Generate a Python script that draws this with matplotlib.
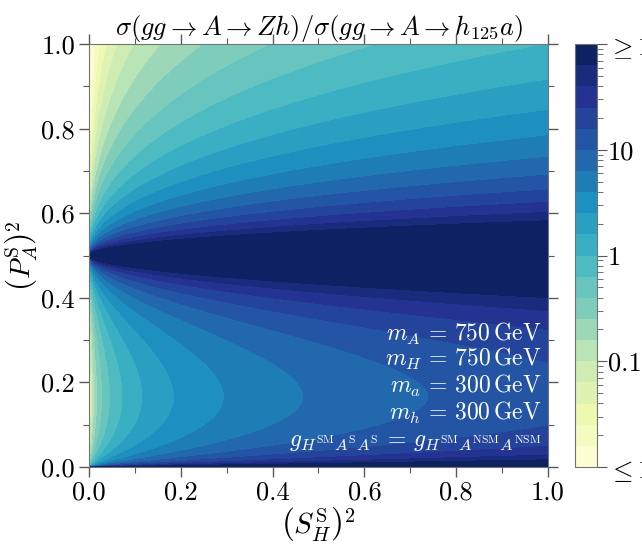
#!/usr/bin/env python3
"""
Ratio sigma(gg->A->Zh)/sigma(gg->A->h125 a) over the singlet admixtures
(S_H^S)^2 and (P_A^S)^2 of H and A.
"""

import numpy as np
import matplotlib
matplotlib.use("Agg")
import matplotlib.pyplot as plt
from matplotlib.colors import LogNorm
from matplotlib.ticker import MultipleLocator, LogLocator, NullFormatter

plt.rcParams['font.family'] = 'serif'
plt.rcParams['font.serif'] = ['cmr10']
plt.rcParams['mathtext.fontset'] = 'cm'
plt.rcParams['axes.formatter.use_mathtext'] = True

# Benchmark shown in the annotation box
MASS_LINES = [
    r'$m_A \,=\, 750\,\mathrm{GeV}$',
    r'$m_H \,=\, 750\,\mathrm{GeV}$',
    r'$m_a \,=\, 300\,\mathrm{GeV}$',
    r'$m_h \,=\, 300\,\mathrm{GeV}$',
    r'$g_{H^{\rm SM}A^{\rm S}A^{\rm S}} \,=\, g_{H^{\rm SM}A^{\rm NSM}A^{\rm NSM}}$',
]

# Colour scale: 5 bands per decade between 1e-2 and 1e2
RATIO_MIN = 1e-2
RATIO_MAX = 1e2
N_BANDS = 20
CBAR_TICKS = [1e-2, 1e-1, 1, 10, 1e2]
CBAR_LABELS = [r'$\leq 10^{-2}$', '0.1', '1', '10', r'$\geq 10^{2}$']

# Normalisation of the ratio: R(1, 1) ~ 1
RATIO_NORM = 1.0

# Scan grid over the mixing angles
x_grid = np.linspace(0.0, 1.0, 601)   # (S_H^S)^2
y_grid = np.linspace(0.0, 1.0, 801)   # (P_A^S)^2


def ratio(x, y):
    """A->Zh couples through S_h^NSM (~x); A->h125 a through (1-2y) with the
    A/a mixing, leading to R ~ x / (y (1-2y)^2)."""
    with np.errstate(divide='ignore', invalid='ignore'):
        r = RATIO_NORM * x / (y * (1.0 - 2.0 * y) ** 2)
    r = np.nan_to_num(r, nan=RATIO_MAX, posinf=RATIO_MAX)
    return np.clip(r, RATIO_MIN * 1.0001, RATIO_MAX * 0.9999)


def main():
    X, Y = np.meshgrid(x_grid, y_grid)
    Z = ratio(X, Y)

    fig = plt.figure(figsize=(6.42, 5.52), dpi=100)
    ax = fig.add_axes([0.1386, 0.154, 0.715, 0.766])
    cax = fig.add_axes([0.8956, 0.154, 0.0343, 0.766])

    levels = np.logspace(np.log10(RATIO_MIN), np.log10(RATIO_MAX), N_BANDS + 1)
    cs = ax.contourf(X, Y, Z, levels=levels, cmap='YlGnBu',
                     norm=LogNorm(vmin=RATIO_MIN, vmax=RATIO_MAX))

    ax.set_xlim(0, 1)
    ax.set_ylim(0, 1)
    ax.xaxis.set_major_locator(MultipleLocator(0.2))
    ax.yaxis.set_major_locator(MultipleLocator(0.2))
    ax.xaxis.set_minor_locator(MultipleLocator(0.1))
    ax.yaxis.set_minor_locator(MultipleLocator(0.1))
    ax.xaxis.set_major_formatter(plt.FormatStrFormatter('%.1f'))
    ax.yaxis.set_major_formatter(plt.FormatStrFormatter('%.1f'))
    ax.tick_params(which='both', direction='out', top=True, right=True,
                   labelsize=19, color='0.35')
    ax.tick_params(which='major', length=7, width=1.0, pad=3)
    ax.tick_params(which='minor', length=4, width=0.8)
    for sp in ax.spines.values():
        sp.set_color('0.45')

    ax.set_xlabel(r'$\left(S_H^{\rm S}\right)^2$', fontsize=21, labelpad=0)
    ax.set_ylabel(r'$\left(P_A^{\rm S}\right)^2$', fontsize=20, labelpad=1)
    ax.set_title(r'$\sigma(gg\to A\to Zh)/\sigma(gg\to A\to h_{125}a)$',
                 fontsize=19, pad=5)

    # Annotation box, right aligned
    y_pos = [0.315, 0.255, 0.192, 0.128, 0.057]
    for txt, yp in zip(MASS_LINES, y_pos):
        ax.text(0.985, yp, txt, transform=ax.transAxes, ha='right',
                va='center', color='white', fontsize=17)

    cbar = fig.colorbar(cs, cax=cax)
    cbar.set_ticks(CBAR_TICKS)
    cbar.set_ticklabels(CBAR_LABELS)
    cax.yaxis.set_minor_locator(LogLocator(base=10, subs=np.arange(2, 10)))
    cax.yaxis.set_minor_formatter(NullFormatter())
    cax.tick_params(which='both', labelsize=19, color='0.35')
    cax.tick_params(which='major', length=7, pad=1)
    cax.tick_params(which='minor', length=4)
    cbar.outline.set_edgecolor('0.45')

    fig.savefig('out.png', dpi=100)
    plt.close(fig)


if __name__ == "__main__":
    main()
